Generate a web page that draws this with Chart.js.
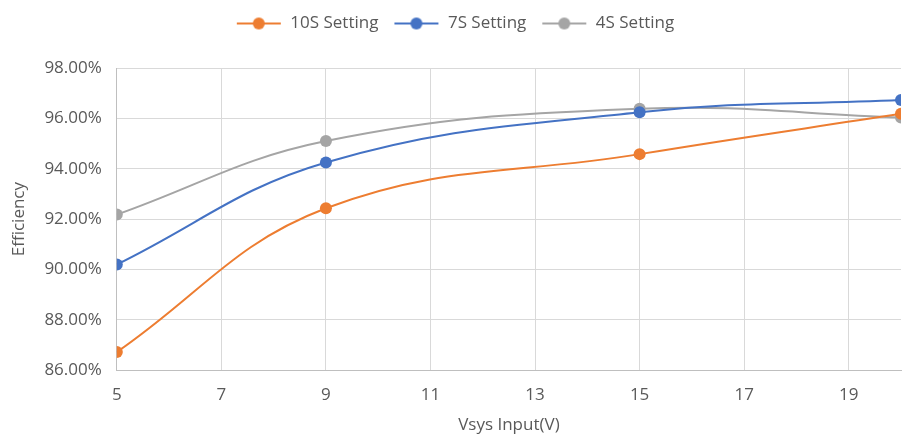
<!DOCTYPE html>
<html>
<head>
<meta charset="utf-8">
<script src="https://cdn.jsdelivr.net/npm/chart.js@4.4.0/dist/chart.umd.min.js"></script>
<style>
  html, body { margin: 0; padding: 0; background: #fff; }
  #wrap { width: 915px; height: 447px; }
</style>
</head>
<body>
<div id="wrap"><canvas id="effChart" width="915" height="447"></canvas></div>
<script>
// Efficiency vs input voltage
const vsys = [5, 9, 15, 20];
const eff10S = [86.72, 92.43, 94.58, 96.18];
const eff7S = [90.2, 94.25, 96.24, 96.73];
const eff4S = [92.18, 95.1, 96.38, 96.03];
const xTicks = [5, 7, 9, 11, 13, 15, 17, 19];
const yTicks = [86, 88, 90, 92, 94, 96, 98];

const colors = { s10: '#ed7d31', s7: '#4472c4', s4: '#a5a5a5' };

function toPoints(ys) {
  return vsys.map((x, i) => ({ x: x, y: ys[i] }));
}

// legend marker: short line with a dot in the middle
function legendMarker(color) {
  const c = document.createElement('canvas');
  c.width = 46;
  c.height = 14;
  const ctx = c.getContext('2d');
  ctx.strokeStyle = color;
  ctx.lineWidth = 2;
  ctx.beginPath();
  ctx.moveTo(1, 7);
  ctx.lineTo(45, 7);
  ctx.stroke();
  ctx.fillStyle = color;
  ctx.beginPath();
  ctx.arc(23, 7, 6, 0, Math.PI * 2);
  ctx.fill();
  return c;
}

// extra room below the legend
const legendGap = {
  id: 'legendGap',
  beforeInit(chart) {
    const fit = chart.legend.fit;
    chart.legend.fit = function () {
      fit.bind(chart.legend)();
      this.height += 26;
    };
  },
};

const tickFont = { family: "'Open Sans', 'Noto Sans', sans-serif", size: 17 };

new Chart(document.getElementById('effChart'), {
  type: 'line',
  data: {
    datasets: [
      {
        label: '10S Setting',
        data: toPoints(eff10S),
        borderColor: colors.s10,
        backgroundColor: colors.s10,
      },
      {
        label: '7S Setting',
        data: toPoints(eff7S),
        borderColor: colors.s7,
        backgroundColor: colors.s7,
      },
      {
        label: '4S Setting',
        data: toPoints(eff4S),
        borderColor: colors.s4,
        backgroundColor: colors.s4,
      },
    ],
  },
  options: {
    responsive: false,
    animation: false,
    layout: { padding: { left: 9, right: 14, top: 0, bottom: 12 } },
    elements: {
      line: { borderWidth: 2, tension: 0.4 },
      point: { radius: 6, hoverRadius: 6, borderWidth: 0 },
    },
    plugins: {
      legend: {
        position: 'top',
        labels: {
          usePointStyle: true,
          pointStyleWidth: 46,
          boxHeight: 14,
          color: '#595959',
          font: tickFont,
          padding: 15,
          generateLabels: function (chart) {
            return chart.data.datasets.map((ds, i) => ({
              text: ds.label,
              pointStyle: legendMarker(ds.borderColor),
              fontColor: '#595959',
              strokeStyle: ds.borderColor,
              fillStyle: ds.borderColor,
              lineWidth: 0,
              datasetIndex: i,
              hidden: false,
            }));
          },
        },
      },
      tooltip: { enabled: false },
    },
    scales: {
      x: {
        type: 'linear',
        min: 5,
        max: 20,
        afterBuildTicks: function (axis) {
          axis.ticks = xTicks.map((v) => ({ value: v }));
        },
        grid: { color: '#d9d9d9', drawTicks: false },
        border: { color: '#bfbfbf' },
        ticks: { color: '#595959', font: tickFont, padding: 15, maxRotation: 0 },
        title: {
          display: true,
          text: 'Vsys Input(V)',
          color: '#595959',
          font: tickFont,
          padding: { top: -6, bottom: 0 },
        },
      },
      y: {
        min: 86,
        max: 98,
        afterBuildTicks: function (axis) {
          axis.ticks = yTicks.map((v) => ({ value: v }));
        },
        grid: { color: '#d9d9d9', drawTicks: false },
        border: { color: '#bfbfbf' },
        ticks: {
          color: '#595959',
          font: tickFont,
          padding: 15,
          callback: (v) => v.toFixed(2) + '%',
        },
        title: {
          display: true,
          text: 'Efficiency',
          color: '#595959',
          font: tickFont,
          padding: { top: 0, bottom: 0 },
        },
      },
    },
  },
  plugins: [legendGap],
});
</script>
</body>
</html>
